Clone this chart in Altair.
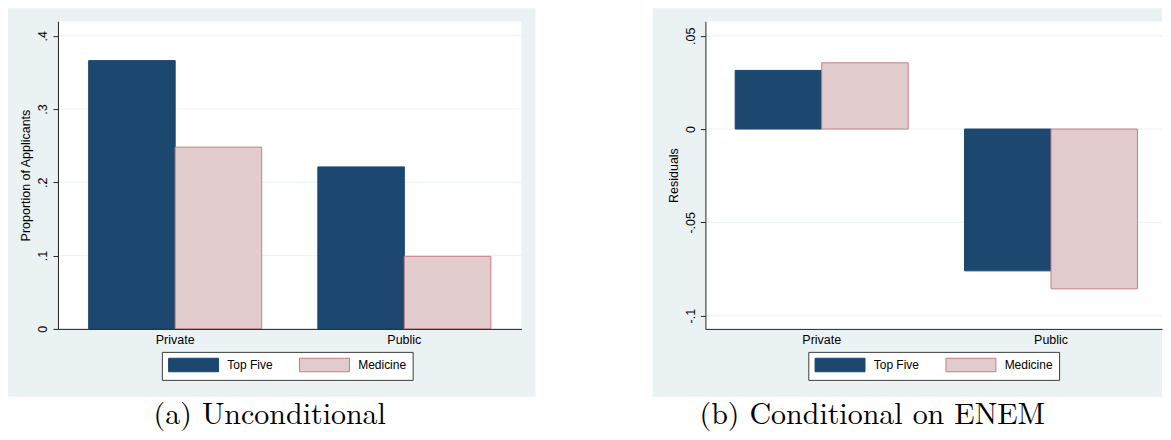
import altair as alt
import pandas as pd

categories = ["Private", "Public"]
series = ["Top Five", "Medicine"]
uncond_top_five = [0.366, 0.221]
uncond_medicine = [0.248, 0.099]
cond_top_five = [0.0314, -0.0760]
cond_medicine = [0.0355, -0.0856]
uncond_ticks = [0, 0.1, 0.2, 0.3, 0.4]
cond_ticks = [-0.1, -0.05, 0, 0.05]
uncond_domain = [0, 0.4198]
cond_domain = [-0.1071, 0.0578]
captions = ["(a) Unconditional", "(b) Conditional on ENEM"]
y_titles = ["Proportion of Applicants", "Residuals"]

fill_colors = ["#1c476f", "#e2cbcd"]
stroke_colors = ["#1c476f", "#c47f86"]
BG = "#eaf2f3"
GRID = "#eaf2f3"
AXIS = "#222222"
SANS = "Liberation Sans, Arial, Helvetica, sans-serif"
SERIF = "Latin Modern Roman, CMU Serif, Liberation Serif, serif"
H = 308
LEG_PATH = "M-1,-1.08H7V1.08H-1Z"


def make_df(tf, med):
    rows = []
    for i, c in enumerate(categories):
        rows.append({"cat": c, "series": series[0], "value": tf[i]})
        rows.append({"cat": c, "series": series[1], "value": med[i]})
    return pd.DataFrame(rows)


LABEL_EXPR = ("datum.value == 0 ? '0' : (datum.value < 0 ? '-' : '') + "
              "replace(toString(abs(datum.value)), '0.', '.')")


def panel(df, ticks, domain, ytitle, caption, W, pad_outer, align,
          bg_left, bg_right, cap_x, legend_x):
    yscale = alt.Scale(domain=domain, nice=False)
    yaxis = alt.Axis(values=ticks, labelExpr=LABEL_EXPR, grid=False, ticks=True,
                     tickSize=5, tickColor=AXIS, domainColor=AXIS, domainWidth=1,
                     labelAngle=270, labelAlign="center", labelBaseline="bottom",
                     labelPadding=3, labelFontSize=12.5, labelFont=SANS,
                     labelColor="black", title=ytitle, titleFont=SANS,
                     titleFontSize=12.5, titleFontWeight="normal",
                     titleColor="black", titlePadding=4, zindex=1)
    xaxis = alt.Axis(title=None, labelAngle=0, ticks=False, grid=False,
                     domainColor=AXIS, domainWidth=1, labelFontSize=12.5,
                     labelFont=SANS, labelColor="black", labelPadding=5, zindex=1)
    legend = alt.Legend(title=None, orient="none", legendX=legend_x, legendY=331,
                        direction="horizontal", columns=2, symbolType=LEG_PATH,
                        symbolSize=156.25, symbolStrokeWidth=1, labelOffset=45.5,
                        labelFont=SANS, labelFontSize=12, labelColor="black",
                        columnPadding=24, padding=6, strokeColor="#3c3c3c",
                        fillColor="white", rowPadding=0)
    one = alt.Data(values=[{"k": 1}])
    bg = alt.Chart(one).mark_rect(fill=BG).encode(
        x=alt.value(bg_left), x2=alt.value(W + bg_right),
        y=alt.value(-13), y2=alt.value(H + 68))
    plot = alt.Chart(one).mark_rect(fill="white").encode(
        x=alt.value(0), x2=alt.value(W), y=alt.value(0), y2=alt.value(H))
    grid = alt.Chart(pd.DataFrame({"value": ticks})).mark_rule(
        color=GRID, strokeWidth=1).encode(
        y=alt.Y("value:Q", scale=yscale, axis=yaxis))
    bars = alt.Chart(df).mark_bar(strokeWidth=1).encode(
        x=alt.X("cat:N", sort=categories,
                scale=alt.Scale(paddingInner=0.245, paddingOuter=pad_outer, align=align),
                axis=xaxis),
        xOffset=alt.XOffset("series:N", sort=series,
                            scale=alt.Scale(domain=series, paddingInner=0, paddingOuter=0)),
        y=alt.Y("value:Q", scale=yscale, axis=yaxis),
        fill=alt.Fill("series:N", scale=alt.Scale(domain=series, range=fill_colors),
                      legend=legend),
        stroke=alt.Stroke("series:N", scale=alt.Scale(domain=series, range=stroke_colors),
                          legend=legend),
    )
    cap = alt.Chart(one).mark_text(font=SERIF, fontSize=30, align="center",
                                   baseline="alphabetic", color="black").encode(
        x=alt.value(cap_x), y=alt.value(403), text=alt.value(caption))
    return alt.layer(bg, plot, grid, bars, cap).properties(width=W, height=H)


left = panel(make_df(uncond_top_five, uncond_medicine), uncond_ticks, uncond_domain,
             y_titles[0], captions[0], 464, 0.134, 0.5, -50, 14, 212, 104)
right = panel(make_df(cond_top_five, cond_medicine), cond_ticks, cond_domain,
              y_titles[1], captions[1], 457, 0.118, 0.55, -53, 0, 167, 103)

chart = alt.hconcat(left, right, spacing=184, bounds="flush").resolve_scale(
    fill="independent", stroke="independent", x="independent", y="independent"
).resolve_legend(fill="independent", stroke="independent").properties(
    padding={"left": 0, "top": 0, "right": 0, "bottom": 3}, background="white"
).configure_view(stroke=None)

chart.save("out.html", embed_options={"renderer": "svg", "actions": False})
